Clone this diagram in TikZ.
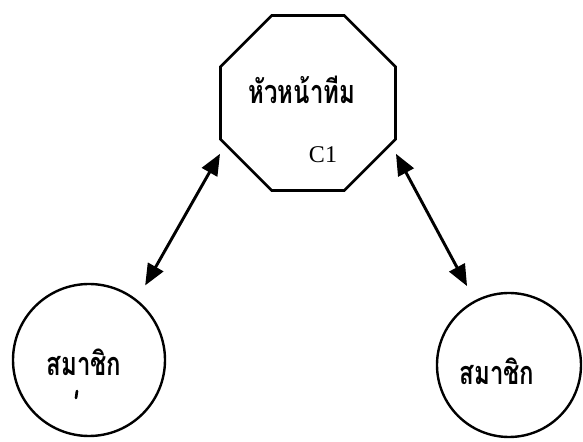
\documentclass[tikz,border=0pt]{standalone}
\usepackage{fontspec}
\setmainfont{Liberation Serif}
\newfontfamily\thaifont[Script=Thai]{Loma}
\usetikzlibrary{shapes.geometric,arrows.meta}
\newcommand\tall[1]{\scalebox{1}[1.35]{#1}}

\begin{document}
\begin{tikzpicture}[x=0.75pt,y=-0.75pt,
	head/.style={draw,regular polygon,regular polygon sides=8,line width=2pt,minimum size=142pt,inner sep=0pt,outer sep=8pt},
	member/.style={draw,circle,line width=1.8pt,inner sep=0pt,outer sep=13pt},
	thai/.style={font=\thaifont\bfseries\fontsize{18}{21}\selectfont},
	link/.style={line width=2.2pt,{Triangle[length=16pt,width=13pt]}-{Triangle[length=16pt,width=13pt]}}]
			\useasboundingbox (0,0) rectangle (583,442);
			
			% team leader
			\node[head] (leader) at (308,103) {};
			\node[thai,anchor=base] (leadname) at (302,104) {\tall{หัวหน้าทีม}};
			\node[font=\fontsize{18}{21}\selectfont,anchor=base] (leadid) at (323,163) {C1};
			
			% members
			\node[member,minimum size=114pt] (mleft) at (89,360) {};
			\node[member,minimum size=108pt] (mright) at (509,365) {};
			\node[thai,anchor=base] (mleftname) at (84,376) {\tall{สมาชิก}};
			\node[thai,anchor=base] (mrightname) at (497,385) {\tall{สมาชิก}};
			\draw[line width=2pt,line cap=round] (77,391) -- (76,398); % mark
			
			\draw[link] (mleft.53) -- (leader.210);
			\draw[link] (mright.118) -- (leader.330);
		\end{tikzpicture}
\end{document}
